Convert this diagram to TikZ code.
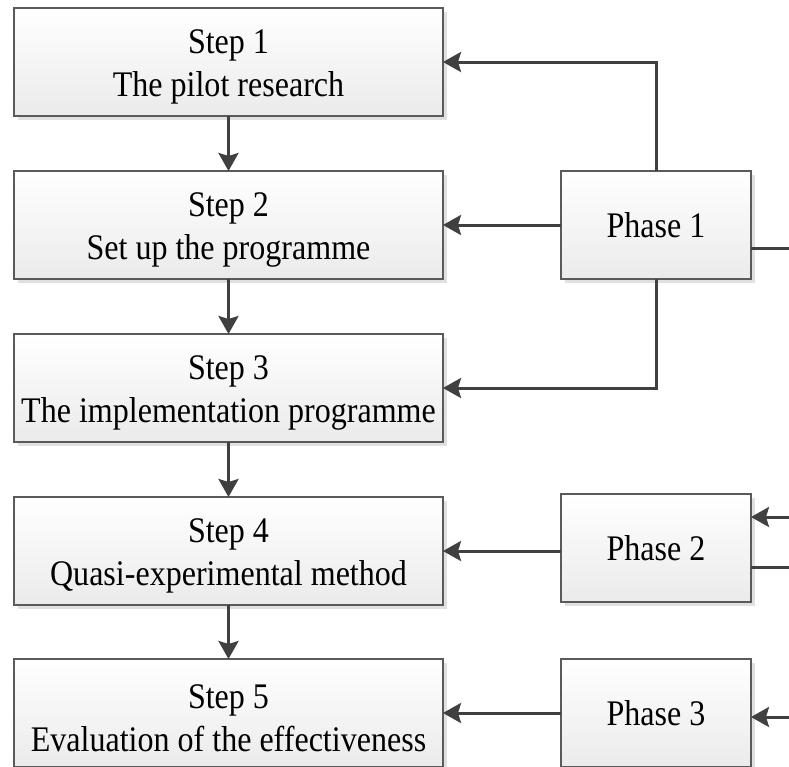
\documentclass[tikz,border=0pt]{standalone}
\usepackage{fontspec}
\setmainfont{Liberation Serif}[FakeStretch=0.89]
\usetikzlibrary{arrows.meta,shadows}
\definecolor{boxline}{HTML}{5A5A5A}
\definecolor{conline}{HTML}{404040}
\begin{document}
\begin{tikzpicture}[x=1pt,y=-1pt,
  txt/.style={font=\fontsize{36}{43}\selectfont,align=center},
  box/.style={draw=boxline,line width=1.4pt,top color=white,bottom color=black!8,
    drop shadow={shadow xshift=3.5pt,shadow yshift=-3.5pt,fill=black!12,opacity=1},
    minimum height=108pt,anchor=north west,inner sep=0pt,outer sep=0pt},
  stepbox/.style={box,minimum width=429pt},
  phasebox/.style={box,minimum width=190pt,font=\fontsize{36}{43}\selectfont},
  con/.style={draw=conline,line width=3pt},
  arr/.style={con,-{Stealth[length=18pt,width=20pt,inset=3pt]}}
]
\useasboundingbox (0,0) rectangle (789,766);
\clip (0,0) rectangle (789,766);

\node[stepbox,label={[txt,yshift=-5pt]center:Step 1\\The pilot research}] (s1) at (14,8) {};
\node[stepbox,label={[txt,yshift=-5pt]center:Step 2\\Set up the programme}] (s2) at (14,171) {};
\node[stepbox,label={[txt,yshift=-5pt]center:Step 3\\The implementation programme}] (s3) at (14,334) {};
\node[stepbox,label={[txt,yshift=-5pt]center:Step 4\\Quasi-experimental method}] (s4) at (14,497) {};
\node[stepbox,label={[txt,yshift=-5pt]center:Step 5\\Evaluation of the effectiveness}] (s5) at (14,659) {};

\node[phasebox] (p1) at (561,171) {Phase 1};
\node[phasebox] (p2) at (561,494) {Phase 2};
\node[phasebox] (p3) at (561,659) {Phase 3};

\draw[arr] (s1.south) -- (s2.north);
\draw[arr] (s2.south) -- (s3.north);
\draw[arr] (s3.south) -- (s4.north);
\draw[arr] (s4.south) -- (s5.north);

\draw[arr] (p1.north) |- (s1.east);
\draw[arr] (p1.west) -- (s2.east);
\draw[arr] (p1.south) |- (s3.east);
\draw[arr] (s4.east -| p2.west) -- (s4.east);
\draw[arr] (p3.west) -- (s5.east);

\coordinate (r1) at (800,248);
\coordinate (r2in) at (800,517);
\coordinate (r2out) at (800,567);
\coordinate (r3) at (800,717);
\draw[con] (r1 -| p1.east) -- (r1);
\draw[arr] (r2in) -- (r2in -| p2.east);
\draw[con] (r2out -| p2.east) -- (r2out);
\draw[arr] (r3) -- (r3 -| p3.east);
\end{tikzpicture}
\end{document}
